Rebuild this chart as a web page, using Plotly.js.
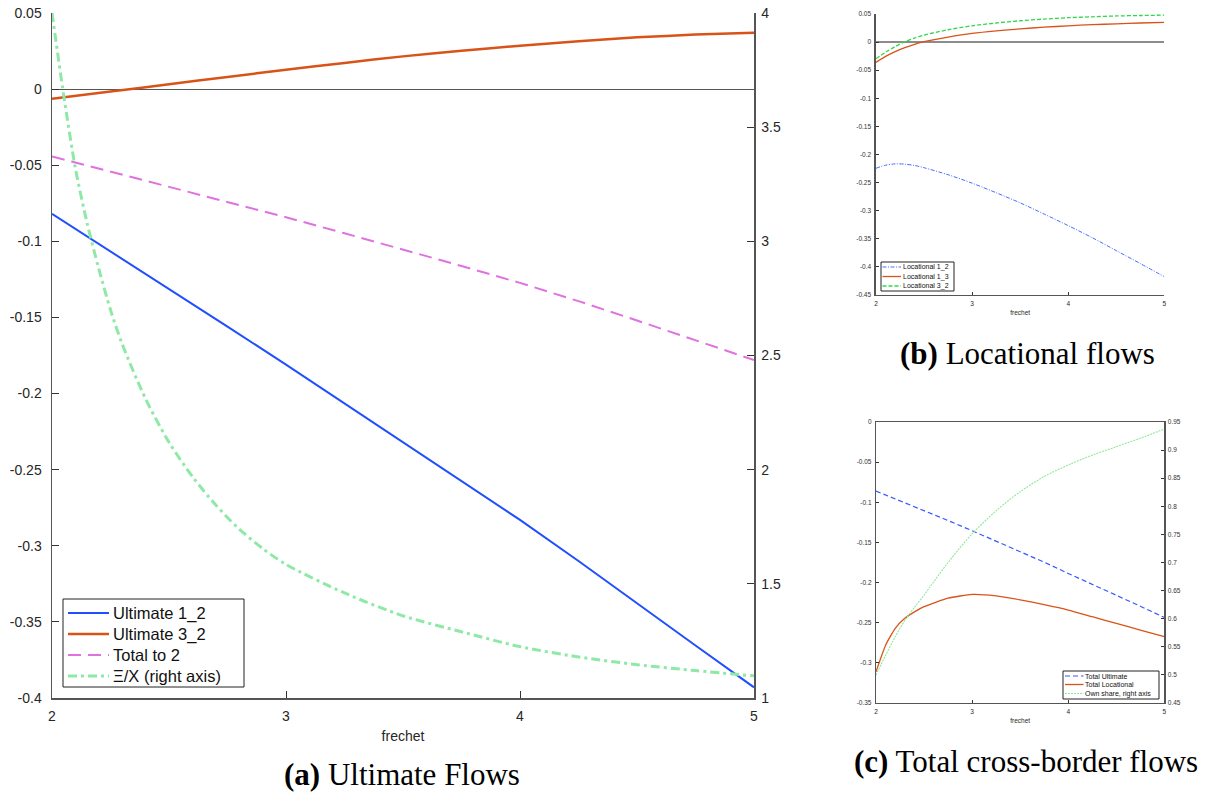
<!DOCTYPE html>
<html>
<head>
<meta charset="utf-8">
<script src="https://cdn.plot.ly/plotly-3.0.1.min.js"></script>
<style>
  html, body { margin: 0; padding: 0; background: #ffffff; }
  #chart { width: 1214px; height: 798px; }
</style>
</head>
<body>
<div id="chart"></div>
<script>
// ---- (a) Ultimate flows ----
const frechetA = [2, 2.25, 2.5, 2.75, 3, 3.25, 3.5, 3.75, 4, 4.25, 4.5, 4.75, 5];
const ultimate12 = [-0.082, -0.1065, -0.131, -0.156, -0.181, -0.2065, -0.232, -0.2575, -0.283, -0.310, -0.338, -0.3655, -0.393];
const ultimate32 = [-0.0064, -0.0016, 0.0032, 0.0080, 0.0127, 0.0172, 0.0215, 0.0252, 0.0285, 0.0315, 0.0340, 0.0358, 0.0371];
const totalTo2 = [-0.0442, -0.0541, -0.0639, -0.0740, -0.0842, -0.0947, -0.1053, -0.1162, -0.1273, -0.1393, -0.1520, -0.1649, -0.1780];

const frechetXi = [2, 2.05, 2.1, 2.15, 2.2, 2.25, 2.3, 2.4, 2.5, 2.6, 2.7, 2.8, 2.9, 3, 3.25, 3.5, 3.75, 4, 4.25, 4.5, 4.75, 5];
const xiOverX = [4.00, 3.64, 3.32, 3.08, 2.88, 2.70, 2.55, 2.31, 2.12, 1.97, 1.845, 1.74, 1.655, 1.585, 1.46, 1.36, 1.29, 1.225, 1.18, 1.146, 1.12, 1.097];

// ---- (b) Locational flows ----
const frechetB = [2, 2.1, 2.2, 2.3, 2.4, 2.5, 2.75, 3, 3.25, 3.5, 3.75, 4, 4.25, 4.5, 4.75, 5];
const locational12 = [-0.2245, -0.2190, -0.2167, -0.2172, -0.2195, -0.2235, -0.2360, -0.2510, -0.2680, -0.2860, -0.3060, -0.3265, -0.3480, -0.3710, -0.3940, -0.4173];
const locational13 = [-0.036, -0.0255, -0.017, -0.010, -0.004, 0.001, 0.009, 0.0155, 0.020, 0.0235, 0.0265, 0.029, 0.031, 0.0325, 0.034, 0.035];
const locational32 = [-0.0297, -0.018, -0.008, 0.0005, 0.007, 0.0125, 0.022, 0.029, 0.034, 0.038, 0.041, 0.0434, 0.045, 0.0465, 0.0473, 0.048];

// ---- (c) Total cross-border flows ----
const frechetC = [2, 2.1, 2.2, 2.3, 2.4, 2.5, 2.75, 3, 3.25, 3.5, 3.75, 4, 4.25, 4.5, 4.75, 5];
const totalUltimate = [-0.086, -0.0908, -0.0956, -0.1004, -0.1052, -0.110, -0.1227, -0.1354, -0.1482, -0.161, -0.1746, -0.1886, -0.2020, -0.2155, -0.2294, -0.2434];
const totalLocational = [-0.311, -0.278, -0.257, -0.2445, -0.2365, -0.230, -0.2195, -0.2147, -0.2165, -0.2215, -0.2275, -0.2342, -0.2425, -0.2508, -0.2591, -0.2674];
const ownShare = [0.500, 0.535, 0.568, 0.597, 0.620, 0.642, 0.700, 0.751, 0.792, 0.826, 0.853, 0.8735, 0.891, 0.906, 0.921, 0.9375];

// ---- series names ----
const namesA = ['Ultimate 1_2', 'Ultimate 3_2', 'Total to 2', 'Ξ/X (right axis)'];
const namesB = ['Locational 1_2', 'Locational 1_3', 'Locational 3_2'];
const namesC = ['Total Ultimate', 'Total Locational', 'Own share, right axis'];

// ---- tick labels ----
const xTicks = [2, 3, 4, 5];
const xTickText = ['2', '3', '4', '5'];
const aLeftTicks = [0.05, 0, -0.05, -0.1, -0.15, -0.2, -0.25, -0.3, -0.35, -0.4];
const aLeftText = ['0.05', '0', '-0.05', '-0.1', '-0.15', '-0.2', '-0.25', '-0.3', '-0.35', '-0.4'];
const aRightTicks = [1, 1.5, 2, 2.5, 3, 3.5, 4];
const aRightText = ['1', '1.5', '2', '2.5', '3', '3.5', '4'];
const bLeftTicks = [0.05, 0, -0.05, -0.1, -0.15, -0.2, -0.25, -0.3, -0.35, -0.4, -0.45];
const bLeftText = ['0.05', '0', '-0.05', '-0.1', '-0.15', '-0.2', '-0.25', '-0.3', '-0.35', '-0.4', '-0.45'];
const cLeftTicks = [0, -0.05, -0.1, -0.15, -0.2, -0.25, -0.3, -0.35];
const cLeftText = ['0', '-0.05', '-0.1', '-0.15', '-0.2', '-0.25', '-0.3', '-0.35'];
const cRightTicks = [0.45, 0.5, 0.55, 0.6, 0.65, 0.7, 0.75, 0.8, 0.85, 0.9, 0.95];
const cRightText = ['0.45', '0.5', '0.55', '0.6', '0.65', '0.7', '0.75', '0.8', '0.85', '0.9', '0.95'];

const SANS = 'Liberation Sans, Arial, sans-serif';
const SERIF = 'Liberation Serif, Times New Roman, serif';
const W = 1214, H = 798;

// line styles per series
const stylesA = [
  { color: '#1f4fff', width: 2 },
  { color: '#d95319', width: 2.5, shape: 'spline', smoothing: 0.6 },
  { color: '#df72df', width: 2, dash: '13px,7px' },
  { color: '#8fe9a6', width: 3, dash: '9px,4px,3px,4px', shape: 'spline', smoothing: 0.8 }
];
const stylesB = [
  { color: '#4a6cff', width: 1, dash: '4px,1.5px,1px,1.5px', shape: 'spline', smoothing: 0.8 },
  { color: '#d95319', width: 1.3, shape: 'spline', smoothing: 0.8 },
  { color: '#2fd84a', width: 1.3, dash: '4px,2px', shape: 'spline', smoothing: 0.8 }
];
const stylesC = [
  { color: '#3358ff', width: 1.2, dash: '5px,3px' },
  { color: '#d95319', width: 1.3, shape: 'spline', smoothing: 0.5 },
  { color: '#8fe89a', width: 1.1, dash: '2px,1px', shape: 'spline', smoothing: 0.8 }
];

function line(x, y, name, style, xa, ya) {
  return { x: x, y: y, name: name, mode: 'lines', xaxis: xa, yaxis: ya, showlegend: false,
           hoverinfo: 'skip', line: style };
}

const traces = [
  line(frechetA, ultimate12, namesA[0], stylesA[0], 'x', 'y'),
  line(frechetA, ultimate32, namesA[1], stylesA[1], 'x', 'y'),
  line(frechetA, totalTo2, namesA[2], stylesA[2], 'x', 'y'),
  line(frechetXi, xiOverX, namesA[3], stylesA[3], 'x', 'y2'),

  line(frechetB, locational12, namesB[0], stylesB[0], 'x2', 'y3'),
  line(frechetB, locational13, namesB[1], stylesB[1], 'x2', 'y3'),
  line(frechetB, locational32, namesB[2], stylesB[2], 'x2', 'y3'),

  line(frechetC, totalUltimate, namesC[0], stylesC[0], 'x3', 'y4'),
  line(frechetC, totalLocational, namesC[1], stylesC[1], 'x3', 'y4'),
  line(frechetC, ownShare, namesC[2], stylesC[2], 'x3', 'y5')
];

// Boxed legend drawn with paper-positioned shapes and text (pixel geometry).
function boxedLegend(names, styles, box, sampleX, textX, rowY, fontSize, shapes, annotations) {
  const px = v => v / W, py = v => 1 - v / H;
  shapes.push({ type: 'rect', xref: 'paper', yref: 'paper', layer: 'above',
    x0: px(box[0]), x1: px(box[1]), y0: py(box[2]), y1: py(box[3]),
    fillcolor: '#ffffff', line: { color: '#222', width: 1 } });
  names.forEach((n, i) => {
    const s = styles[i];
    shapes.push({ type: 'line', xref: 'paper', yref: 'paper', layer: 'above',
      x0: px(sampleX[0]), x1: px(sampleX[1]), y0: py(rowY[i]), y1: py(rowY[i]),
      line: { color: s.color, width: s.width, dash: s.dash || 'solid' } });
    annotations.push({ text: n, xref: 'paper', yref: 'paper', x: px(textX), y: py(rowY[i]),
      xanchor: 'left', yanchor: 'middle', showarrow: false, borderpad: 0,
      font: { family: SANS, size: fontSize, color: '#111' } });
  });
}

function xAxis(domain, anchor, size, tickLen, standoff, titleStandoff, mirror) {
  return {
    domain: domain, anchor: anchor, range: [2, 5], tickvals: xTicks, ticktext: xTickText,
    ticks: 'inside', ticklen: tickLen, tickwidth: 1, tickcolor: '#333',
    showline: true, linecolor: '#555', linewidth: size > 10 ? 1.5 : 1.2, mirror: mirror,
    showgrid: false, zeroline: false, fixedrange: true, ticklabelstandoff: standoff,
    tickfont: { family: SANS, size: size, color: '#262626' },
    title: { text: 'frechet', font: { family: SANS, size: size, color: '#262626' }, standoff: titleStandoff }
  };
}
function yAxis(opts) {
  return Object.assign({
    ticks: 'inside', tickwidth: 1, tickcolor: '#333', showline: true, linecolor: '#555',
    showgrid: false, zeroline: false, fixedrange: true
  }, opts);
}

const aDom = [52 / W, 754 / W];
const sideDom = [876 / W, 1164.3 / W];

const shapes = [];
const annotations = [
  { text: '<b>(a)</b> Ultimate Flows', xref: 'paper', yref: 'paper', x: 402 / W, y: 1 - 774 / H,
    xanchor: 'center', yanchor: 'middle', showarrow: false, font: { family: SERIF, size: 31, color: '#000' } },
  { text: '<b>(b)</b> Locational flows', xref: 'paper', yref: 'paper', x: 1027 / W, y: 1 - 354 / H,
    xanchor: 'center', yanchor: 'middle', showarrow: false, font: { family: SERIF, size: 31, color: '#000' } },
  { text: '<b>(c)</b> Total cross-border flows', xref: 'paper', yref: 'paper', x: 1026 / W, y: 1 - 761 / H,
    xanchor: 'center', yanchor: 'middle', showarrow: false, font: { family: SERIF, size: 31, color: '#000' } }
];

boxedLegend(namesA, stylesA, [63, 244, 599, 687], [68, 109], 112, [613, 634, 655, 676], 16.5, shapes, annotations);
boxedLegend(namesB, stylesB, [881, 954, 262, 291], [882.5, 901], 901.5, [267, 276.5, 286], 7, shapes, annotations);
boxedLegend(namesC, stylesC, [1063, 1159, 671, 699], [1065, 1083.5], 1084, [676, 684.5, 693.5], 7, shapes, annotations);

const layout = {
  width: W, height: H,
  margin: { l: 0, r: 0, t: 0, b: 0 },
  paper_bgcolor: '#ffffff', plot_bgcolor: 'rgba(0,0,0,0)',
  showlegend: false,
  xaxis: xAxis(aDom, 'y', 14, 7, 5, 8, false),
  yaxis: yAxis({
    domain: [1 - 698 / H, 1 - 13 / H], anchor: 'x', range: [-0.4, 0.05],
    tickvals: aLeftTicks, ticktext: aLeftText, ticklen: 7, linewidth: 1.5, ticklabelstandoff: 6,
    tickfont: { family: SANS, size: 14, color: '#262626' },
    zeroline: true, zerolinecolor: '#555', zerolinewidth: 1
  }),
  yaxis2: yAxis({
    overlaying: 'y', side: 'right', anchor: 'x', range: [1, 4],
    tickvals: aRightTicks, ticktext: aRightText, ticklen: 7, linewidth: 1.5, ticklabelstandoff: 3,
    tickfont: { family: SANS, size: 14, color: '#262626' }
  }),

  xaxis2: xAxis(sideDom, 'y3', 6.5, 3, 2, 4, false),
  yaxis3: yAxis({
    domain: [1 - 295 / H, 1 - 14 / H], anchor: 'x2', range: [-0.45, 0.05],
    tickvals: bLeftTicks, ticktext: bLeftText, ticklen: 3, linewidth: 1.6, ticklabelstandoff: 2,
    tickfont: { family: SANS, size: 6.5, color: '#333' },
    zeroline: true, zerolinecolor: '#8c8c8c', zerolinewidth: 2.2
  }),

  xaxis3: xAxis(sideDom, 'y4', 6.5, 3, 2, 4, true),
  yaxis4: yAxis({
    domain: [1 - 703 / H, 1 - 422 / H], anchor: 'x3', range: [-0.35, 0],
    tickvals: cLeftTicks, ticktext: cLeftText, ticklen: 3, linewidth: 1.2, ticklabelstandoff: 2,
    tickfont: { family: SANS, size: 6.5, color: '#333' }
  }),
  yaxis5: yAxis({
    overlaying: 'y4', side: 'right', anchor: 'x3', range: [0.45, 0.95],
    tickvals: cRightTicks, ticktext: cRightText, ticklen: 3, linewidth: 1.2, ticklabelstandoff: 1,
    tickfont: { family: SANS, size: 6.5, color: '#333' }
  }),

  shapes: shapes,
  annotations: annotations
};

Plotly.newPlot('chart', traces, layout, { displayModeBar: false, staticPlot: true });
</script>
</body>
</html>
